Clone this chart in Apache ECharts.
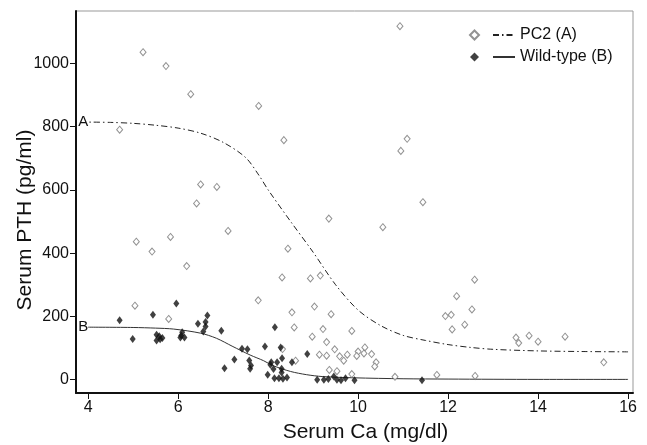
<!DOCTYPE html>
<html><head><meta charset="utf-8">
<script src="https://cdn.jsdelivr.net/npm/echarts@6.0.0/dist/echarts.min.js"></script>
<style>html,body{margin:0;padding:0;background:#fff}#c{width:647px;height:445px}</style>
</head><body><div id="c"></div>
<script>
const xTicks = [4, 6, 8, 10, 12, 14, 16];
const yTicks = [0, 200, 400, 600, 800, 1000];

const pc2Points = [
  [5.22,1035],[5.73,991],[6.28,902],[7.79,865],[4.70,790],[8.35,757],[6.50,617],[6.86,609],[6.41,557],[9.35,509],[7.11,470],
  [10.93,1117],[11.09,761],[10.95,723],[11.44,561],[10.55,482],
  [5.07,436],[5.42,405],[5.83,451],[5.04,234],[5.79,192],[6.19,359],[7.78,251],
  [8.44,414],[8.31,323],[8.94,320],[9.16,329],[8.53,213],[9.03,231],[9.40,207],[8.58,165],[9.22,160],[9.86,154],
  [8.98,136],[9.30,119],[9.48,96],[9.14,79],[9.30,76],[9.59,74],[9.76,79],[9.68,60],[8.61,60],[9.36,31],[9.53,27],[9.86,18],[8.32,97],
  [10.00,89],[10.15,102],[10.13,83],[10.30,81],[9.97,75],[10.40,55],[10.37,42],[10.82,9],[11.75,15],
  [12.59,316],[12.19,264],[11.94,201],[12.07,205],[12.53,222],[12.09,159],[12.37,174],[13.51,133],[13.57,116],[13.80,139],
  [12.60,12],[14.00,120],[14.60,136],[15.46,55]
];
const wildPoints = [
  [4.70,188],[5.44,205],[4.99,129],[5.52,142],[5.58,137],[5.65,132],[5.52,124],[5.60,128],
  [5.96,241],[6.65,203],[6.44,177],[6.61,182],[6.61,168],[6.56,152],[6.96,155],[6.09,150],[6.07,140],[6.05,133],[6.14,133],
  [7.42,98],[7.54,96],[7.25,64],[7.03,36],[7.58,61],[7.62,45],[7.60,35],
  [8.15,166],[7.93,105],[8.28,102],[8.87,81],[8.07,55],[8.20,55],[8.31,68],[8.53,55],[8.05,47],[8.12,34],[8.30,35],[8.30,23],
  [7.99,16],[8.14,5],[8.24,5],[8.33,3],[8.42,7],
  [9.09,0],[9.24,0],[9.34,2],[9.46,10],[9.53,0],[9.62,-2],[9.72,5],[9.92,-2],[11.42,-2]
];
const pc2Curve = [
  [4.0,814],[4.5,813],[5.0,810],[5.5,804],[6.0,795],[6.5,779],[7.0,750],[7.5,702],[7.8,645],[8.0,600],[8.5,500],
  [9.0,403],[9.5,300],[10.0,220],[10.5,171],[11.0,140],[11.5,124],[12.0,111],[12.5,102],[13.0,96],[14.0,91],[15.0,89],[16.0,88]
];
const wildCurve = [
  [4.0,166],[5.0,165],[5.5,163],[5.9,160],[6.5,147],[6.85,131],[7.2,106],[7.6,78],[7.9,60],[8.1,45],[8.5,26],
  [8.85,16],[9.2,10],[9.9,6],[11.0,3],[12.0,2],[14.0,1],[16.0,1]
];

const FONT = '"Liberation Sans", Arial, Helvetica, sans-serif';
const chart = echarts.init(document.getElementById('c'), null, {renderer: 'canvas'});
chart.setOption({
  animation: false,
  backgroundColor: '#fff',
  textStyle: {fontFamily: FONT},
  grid: {left: 76, right: 14, top: 11, bottom: 52, show: true, borderColor: '#999', borderWidth: 1,
         containLabel: false, outerBoundsMode: 'none'},
  legend: [
    {
      data: ['PC2 (A)', 'Wild-type (B)'], orient: 'vertical', left: 464, top: 22,
      itemWidth: 9, itemHeight: 9, itemGap: 6, selectedMode: false,
      formatter: () => ' ',
      textStyle: {fontSize: 16, lineHeight: 16, fontFamily: FONT}
    },
    {
      data: ['PC2 (A) fit', 'Wild-type (B) fit'], orient: 'vertical', left: 487, top: 22,
      itemWidth: 22, itemHeight: 10, itemGap: 6, selectedMode: false,
      itemStyle: {opacity: 0},
      formatter: name => name.replace(' fit', ''),
      textStyle: {fontSize: 16, lineHeight: 16, color: '#111', fontFamily: FONT}
    }
  ],
  xAxis: {
    type: 'value', min: 3.73, max: 16.11,
    name: 'Serum Ca (mg/dl)', nameLocation: 'middle', nameGap: 29, nameMoveOverlap: false,
    nameTextStyle: {fontSize: 21, color: '#111', padding: [0, 0, 0, 22], fontFamily: FONT},
    axisLine: {show: true, onZero: false, lineStyle: {color: '#111', width: 2}},
    axisTick: {show: true, length: 6, customValues: xTicks, lineStyle: {color: '#111'}},
    axisLabel: {customValues: xTicks, fontSize: 16, color: '#111', margin: 7, fontFamily: FONT,
                formatter: v => String(v)},
    splitLine: {show: false}
  },
  yAxis: {
    type: 'value', min: -42, max: 1165,
    name: 'Serum PTH (pg/ml)', nameLocation: 'middle', nameGap: 40, nameMoveOverlap: false,
    nameTextStyle: {fontSize: 21, color: '#111', padding: [0, 36, 0, 0], fontFamily: FONT},
    axisLine: {show: true, onZero: false, lineStyle: {color: '#111', width: 2}},
    axisTick: {show: true, length: 6, customValues: yTicks, lineStyle: {color: '#111'}},
    axisLabel: {customValues: yTicks, fontSize: 16, color: '#111', margin: 7, fontFamily: FONT,
                formatter: v => String(v)},
    splitLine: {show: false}
  },
  series: [
    {
      name: 'PC2 (A)', type: 'scatter', data: pc2Points, symbol: 'diamond', symbolSize: [6, 7],
      itemStyle: {color: '#fff', borderColor: '#777', borderWidth: 1}, z: 3
    },
    {
      name: 'Wild-type (B)', type: 'scatter', data: wildPoints, symbol: 'diamond', symbolSize: [6, 8],
      itemStyle: {color: '#111'}, z: 4
    },
    {
      name: 'PC2 (A) fit', type: 'line', data: pc2Curve.slice().reverse(), symbol: 'none', smooth: 0.3,
      itemStyle: {color: '#222'},
      lineStyle: {color: '#222', width: 1, type: [6, 3, 1.5, 3]},
      endLabel: {show: true, formatter: 'A', align: 'left', distance: 0, offset: [-10, 0], fontSize: 15, color: '#111', fontFamily: FONT},
      z: 2
    },
    {
      name: 'Wild-type (B) fit', type: 'line', data: wildCurve.slice().reverse(), symbol: 'none', smooth: 0.3,
      itemStyle: {color: '#333'},
      lineStyle: {color: '#333', width: 1},
      endLabel: {show: true, formatter: 'B', align: 'left', distance: 0, offset: [-10, 0], fontSize: 15, color: '#111', fontFamily: FONT},
      z: 2
    }
  ]
});
</script>
</body></html>
